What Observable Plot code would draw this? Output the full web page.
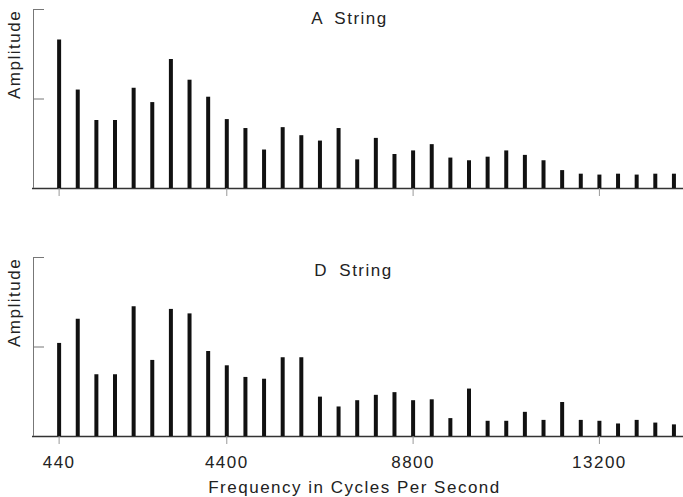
<!DOCTYPE html>
<html>
<head>
<meta charset="utf-8">
<script src="https://cdn.jsdelivr.net/npm/d3@7"></script>
<script src="https://cdn.jsdelivr.net/npm/@observablehq/plot@0.6"></script>
<style>
  html, body { margin: 0; padding: 0; background: #fff; }
  svg { display: block; }
  svg text { letter-spacing: 1.5px; }
</style>
</head>
<body>
<div id="chart"></div>
<script>
// Harmonic frequencies (Hz)
const frequencies = [440, 880, 1320, 1760, 2200, 2640, 3080, 3520, 3960, 4400,
  4840, 5280, 5720, 6160, 6600, 7040, 7480, 7920, 8360, 8800,
  9240, 9680, 10120, 10560, 11000, 11440, 11880, 12320, 12760, 13200,
  13640, 14080, 14520, 14960];

// Relative amplitudes
const aString = [1.66, 1.10, 0.76, 0.76, 1.12, 0.96, 1.44, 1.21, 1.02, 0.77,
  0.67, 0.43, 0.68, 0.59, 0.53, 0.67, 0.32, 0.56, 0.38, 0.42,
  0.49, 0.34, 0.31, 0.35, 0.42, 0.37, 0.31, 0.20, 0.16, 0.15,
  0.16, 0.15, 0.16, 0.16];

const dString = [1.04, 1.31, 0.69, 0.69, 1.45, 0.85, 1.42, 1.37, 0.95, 0.79,
  0.66, 0.64, 0.88, 0.88, 0.44, 0.33, 0.40, 0.46, 0.49, 0.40,
  0.41, 0.20, 0.53, 0.17, 0.17, 0.27, 0.18, 0.38, 0.18, 0.17,
  0.14, 0.18, 0.15, 0.13];

const panelTitles = ["A String", "D String"];
const xTicks = [440, 4400, 8800, 13200];
const yTicks = [1, 2];
const xLabel = "Frequency in Cycles Per Second";
const yLabel = "Amplitude";

const xDomain = [-165, 15186];
const FONT = "'Liberation Sans', Arial, Helvetica, sans-serif";

function panel(values, title, bottom) {
  const data = frequencies.map((f, i) => ({freq: f, amp: values[i]}));
  const marks = [
    Plot.ruleY([0], {stroke: "#333", strokeWidth: 1.5, insetLeft: -1}),
    Plot.ruleX([xDomain[0]], {y1: 0, y2: 2, stroke: "#777", strokeWidth: 1}),
    Plot.axisY({anchor: "right", frameAnchor: "left", ticks: yTicks, tickSize: 10,
      tickFormat: () => "", stroke: "#777", label: null}),
    Plot.axisX({ticks: xTicks, tickSize: 8, tickPadding: 11, fontSize: 17,
      tickFormat: bottom ? (d => String(d)) : (() => ""), stroke: "#999", fill: "#222", label: null}),
    Plot.ruleX(data, {x: "freq", y1: 0, y2: "amp", stroke: "#111", strokeWidth: 4}),
    Plot.text([title], {frameAnchor: "top", lineAnchor: "top", dx: bottom ? -5 : -9,
      dy: bottom ? 6 : 2, fontSize: 17, fill: "#222"}),
    Plot.text([yLabel], {frameAnchor: "left", rotate: -90, lineAnchor: "middle",
      dx: -19, fontSize: 17, fill: "#222"})
  ];
  if (bottom) {
    marks.push(Plot.text([xLabel], {frameAnchor: "bottom", lineAnchor: "top",
      dy: 44, dx: -4, fontSize: 17, fill: "#222"}));
  }
  return Plot.plot({
    width: 683,
    height: bottom ? 249 : 248,
    marginTop: 9,
    marginBottom: bottom ? 61 : 60,
    marginLeft: 33,
    marginRight: 0,
    style: {fontFamily: FONT, background: "#fff", color: "#222"},
    x: {domain: xDomain, axis: null},
    y: {domain: [0, 2], axis: null},
    marks
  });
}

const chartEl = document.getElementById("chart");
const topPanel = panel(aString, panelTitles[0], false);
const botPanel = panel(dString, panelTitles[1], true);
chartEl.appendChild(topPanel);
chartEl.appendChild(botPanel);
[topPanel, botPanel].forEach(svg => {
  d3.select(svg).selectAll("text").filter(function() {
    return this.textContent.includes("String");
  }).style("word-spacing", "5px");
});
</script>
</body>
</html>
